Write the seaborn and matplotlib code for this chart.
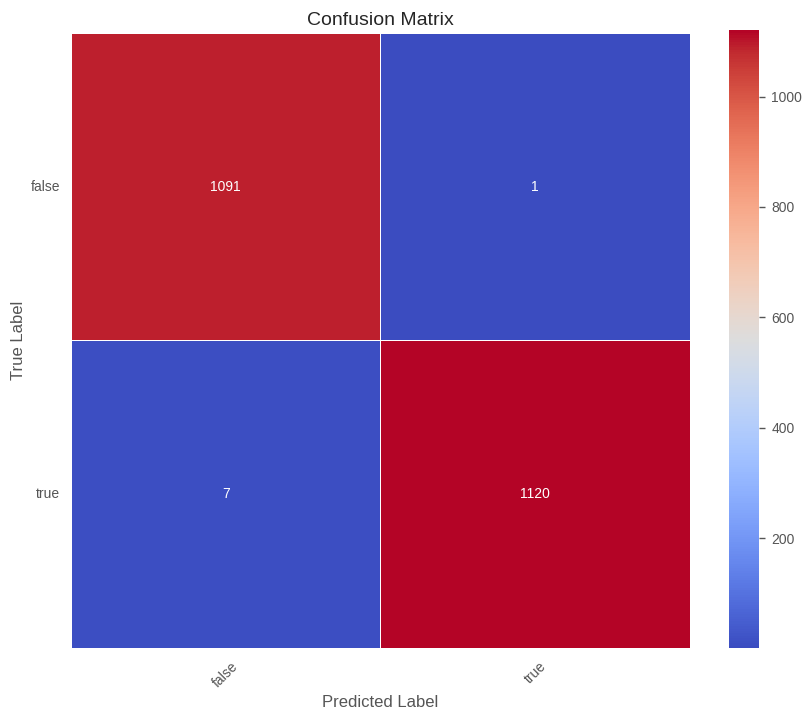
import matplotlib
matplotlib.use("Agg")
import matplotlib.pyplot as plt
import seaborn as sns
import numpy as np
import pandas as pd

labels = ["false", "true"]
row_false = [1091, 1]
row_true = [7, 1120]

sns.set_style("whitegrid")
plt.rcParams['font.family'] = ['sans-serif']
plt.rcParams['font.sans-serif'] = ['Liberation Sans', 'DejaVu Sans']

df = pd.DataFrame([row_false, row_true], index=labels, columns=labels)

fig = plt.figure(figsize=(8.1, 7.19), dpi=100)
ax = fig.add_axes([0.0877, 0.0988, 0.764, 0.8555])
cax = fig.add_axes([0.900, 0.0988, 0.037, 0.859])

sns.heatmap(df, annot=True, fmt="d", cmap="coolwarm", linewidths=0.5,
            linecolor="white", ax=ax, cbar_ax=cax,
            annot_kws={"color": "white", "fontsize": 10})

ax.set_title("Confusion Matrix", fontsize=14, color=".15")
ax.set_xlabel("Predicted Label", fontsize=12, color="#555555", labelpad=4)
ax.set_ylabel("True Label", fontsize=12, color="#555555", labelpad=3)
ax.tick_params(axis="both", length=0, labelsize=10, colors="#555555", pad=8)
plt.setp(ax.get_xticklabels(), rotation=45)
plt.setp(ax.get_yticklabels(), rotation=0)
cax.tick_params(length=4, width=1, labelsize=10, colors="#555555", pad=5)
for s in cax.spines.values():
    s.set_visible(False)

fig.savefig("out.png", dpi=100)
